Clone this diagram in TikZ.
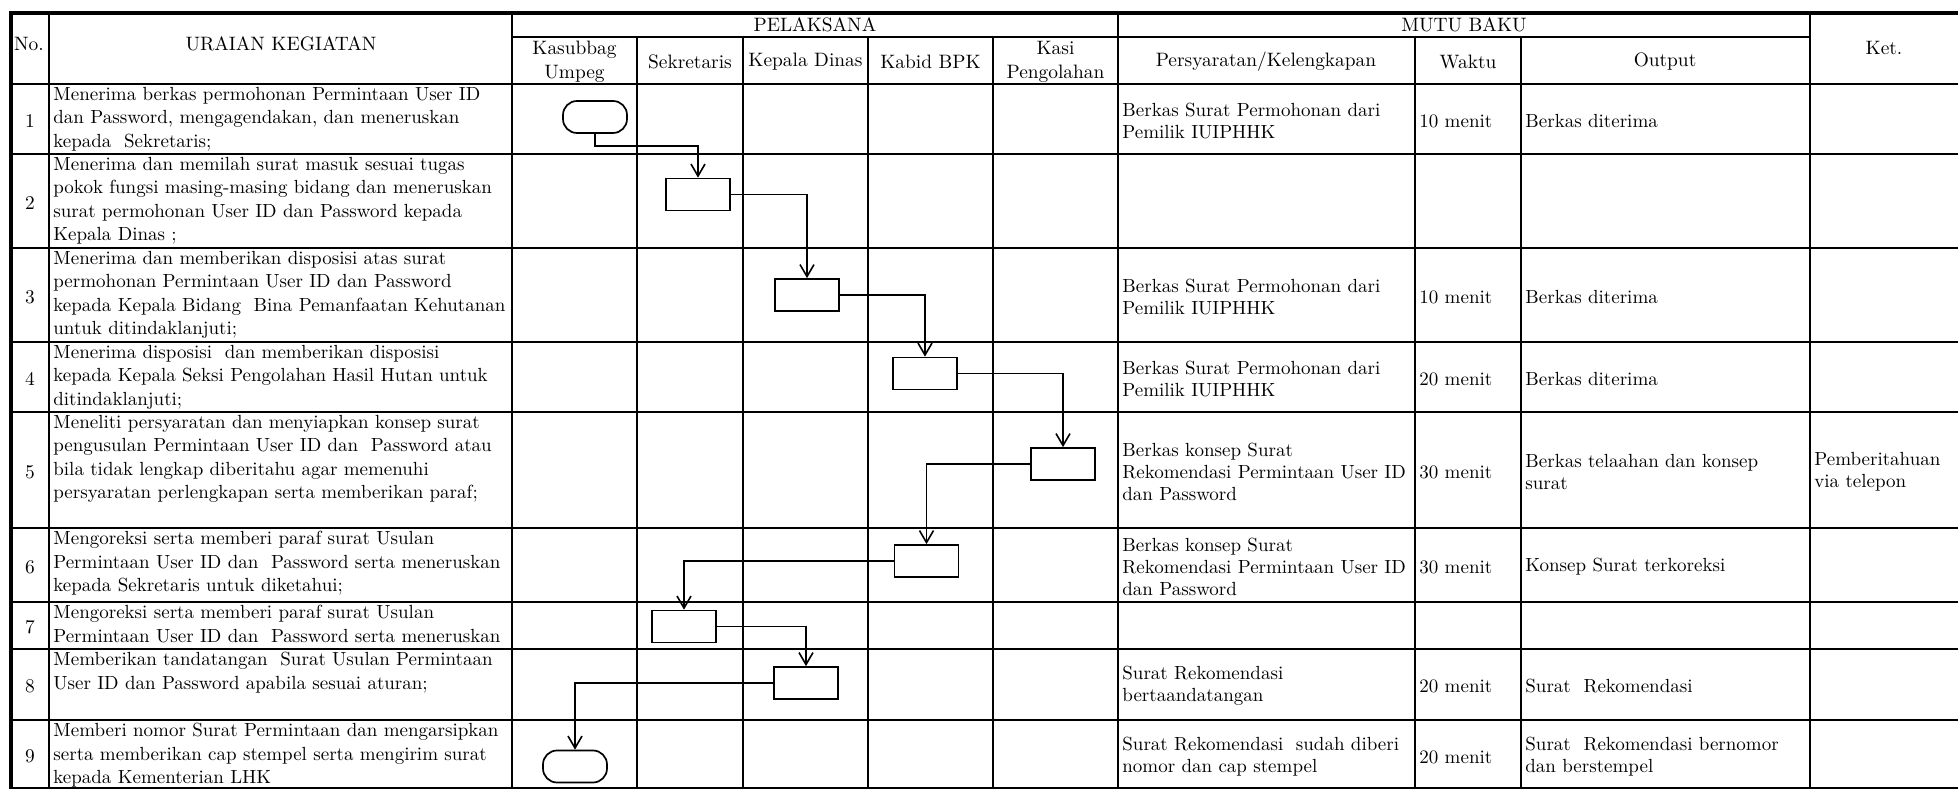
\documentclass[tikz,border=0pt]{standalone}
\usetikzlibrary{arrows.meta}
\begin{document}
\begin{tikzpicture}[x=0.5pt,y=-0.5pt,
  grid/.style={line width=1pt},
  rim/.style={line width=2pt},
  proc/.style={draw, line width=0.85pt, minimum width=32pt, minimum height=16pt, inner sep=0pt},
  term/.style={proc, rounded corners=7pt},
  flow/.style={line width=0.75pt, -{Straight Barb[length=6pt,width=7pt,line width=0.8pt]}},
  hd/.style={inner sep=0pt, align=center, font=\fontsize{9.7}{12}\selectfont},
  no/.style={inner sep=0pt, font=\fontsize{9.7}{12}\selectfont},
  urai/.style={inner sep=0pt, align=left, anchor=north west, font=\fontsize{9.5}{11.65}\selectfont},
  mb/.style={inner sep=0pt, align=left, anchor=west, font=\fontsize{9.5}{11}\selectfont}]
\useasboundingbox (0,0) rectangle (1958,790);

% table lines
\foreach \y in {84,154,248,342,412,528,602,649,720,788} \draw[grid] (11,\y) -- (1958,\y);
\draw[grid] (512,37) -- (1810,37);
\foreach \x in {49,512,1118,1810} \draw[grid] (\x,13) -- (\x,788);
\foreach \x in {637,743,868,993,1415,1521} \draw[grid] (\x,37) -- (\x,788);
\draw[rim] (1958,13) -- (11,13) -- (11,789);

% header
\node[hd] (hno) at (29,44) {No.};
\node[hd] (hurai) at (281,44) {URAIAN KEGIATAN};
\node[hd] (hpel) at (815,25) {PELAKSANA};
\node[hd] (hmutu) at (1464,25) {MUTU BAKU};
\node[hd] (hket) at (1884,48) {Ket.};
\node[hd] (hkasub) at (574.5,62) {Kasubbag\\Umpeg};
\node[hd] (hsekr) at (690,62) {Sekretaris};
\node[hd] (hkadis) at (805.5,62) {Kepala Dinas};
\node[hd] (hkabid) at (930.5,62) {Kabid BPK};
\node[hd] (hkasi) at (1055.5,62) {Kasi\\Pengolahan};
\node[hd] (hsyarat) at (1266,62) {Persyaratan/Kelengkapan};
\node[hd] (hwaktu) at (1468,62) {Waktu};
\node[hd] (houtput) at (1665,62) {Output};

% nomor
\node[no] (n1) at (30,121) {1};
\node[no] (n2) at (30,203) {2};
\node[no] (n3) at (30,297) {3};
\node[no] (n4) at (30,379) {4};
\node[no] (n5) at (30,472) {5};
\node[no] (n6) at (30,567) {6};
\node[no] (n7) at (30,627) {7};
\node[no] (n8) at (30,686) {8};
\node[no] (n9) at (30,756) {9};

% uraian kegiatan
\node[urai] (u1) at (53,87) {Menerima berkas permohonan Permintaan User ID\\dan Password, mengagendakan, dan meneruskan\\kepada\ \ Sekretaris;};
\node[urai] (u2) at (53,157) {Menerima dan memilah surat masuk sesuai tugas\\pokok fungsi masing-masing bidang dan meneruskan\\surat permohonan User ID dan Password kepada\\Kepala Dinas ;};
\node[urai] (u3) at (53,251) {Menerima dan memberikan disposisi atas surat\\permohonan Permintaan User ID dan Password\\kepada Kepala Bidang\ \ Bina Pemanfaatan Kehutanan\\untuk ditindaklanjuti;};
\node[urai] (u4) at (53,345) {Menerima disposisi\ \ dan memberikan disposisi\\kepada Kepala Seksi Pengolahan Hasil Hutan untuk\\ditindaklanjuti;};
\node[urai] (u5) at (53,415) {Meneliti persyaratan dan menyiapkan konsep surat\\pengusulan Permintaan User ID dan\ \ Password atau\\bila tidak lengkap diberitahu agar memenuhi\\persyaratan perlengkapan serta memberikan paraf;};
\node[urai] (u6) at (53,531) {Mengoreksi serta memberi paraf surat Usulan\\Permintaan User ID dan\ \ Password serta meneruskan\\kepada Sekretaris untuk diketahui;};
\node[urai] (u7) at (53,605) {Mengoreksi serta memberi paraf surat Usulan\\Permintaan User ID dan\ \ Password serta meneruskan};
\node[urai] (u8) at (53,652) {Memberikan tandatangan\ \ Surat Usulan Permintaan\\User ID dan Password apabila sesuai aturan;};
\node[urai] (u9) at (53,723) {Memberi nomor Surat Permintaan dan mengarsipkan\\serta memberikan cap stempel serta mengirim surat\\kepada Kementerian LHK};

% mutu baku
\node[mb] (s1) at (1122,121) {Berkas Surat Permohonan dari\\Pemilik IUIPHHK};
\node[mb] (w1) at (1419,121) {10 menit};
\node[mb] (o1) at (1525,121) {Berkas diterima};
\node[mb] (s3) at (1122,297) {Berkas Surat Permohonan dari\\Pemilik IUIPHHK};
\node[mb] (w3) at (1419,297) {10 menit};
\node[mb] (o3) at (1525,297) {Berkas diterima};
\node[mb] (s4) at (1122,379) {Berkas Surat Permohonan dari\\Pemilik IUIPHHK};
\node[mb] (w4) at (1419,379) {20 menit};
\node[mb] (o4) at (1525,379) {Berkas diterima};
\node[mb] (s5) at (1122,472) {Berkas konsep Surat\\Rekomendasi Permintaan User ID\\dan Password};
\node[mb] (w5) at (1419,472) {30 menit};
\node[mb] (o5) at (1525,472) {Berkas telaahan dan konsep\\surat};
\node[mb] (k5) at (1814,472) {Pemberitahuan\\via telepon};
\node[mb] (s6) at (1122,567) {Berkas konsep Surat\\Rekomendasi Permintaan User ID\\dan Password};
\node[mb] (w6) at (1419,567) {30 menit};
\node[mb] (o6) at (1525,567) {Konsep Surat terkoreksi};
\node[mb] (s8) at (1122,686) {Surat Rekomendasi\\bertaandatangan};
\node[mb] (w8) at (1419,686) {20 menit};
\node[mb] (o8) at (1525,686) {Surat\ \ Rekomendasi};
\node[mb] (s9) at (1122,757) {Surat Rekomendasi\ \ sudah diberi\\nomor dan cap stempel};
\node[mb] (w9) at (1419,757) {20 menit};
\node[mb] (o9) at (1525,757) {Surat\ \ Rekomendasi bernomor\\dan berstempel};

% alur
\node[term] (p1) at (595,117){};
\node[proc] (p2) at (698,194.5){};
\node[proc] (p3) at (807,295){};
\node[proc] (p4) at (925,373.5){};
\node[proc] (p5) at (1063,464){};
\node[proc] (p6) at (926.5,561){};
\node[proc] (p7) at (684,626.5){};
\node[proc] (p8) at (806,683){};
\node[term] (p9) at (575,766.5){};
\draw[flow](p1.south) -- ++(0,12) -| (p2.north);
\draw[flow](p2.east) -| (p3.north);
\draw[flow](p3.east) -| (p4.north);
\draw[flow](p4.east) -| (p5.north);
\draw[flow](p5.west) -| (p6.north);
\draw[flow](p6.west) -| (p7.north);
\draw[flow](p7.east) -| (p8.north);
\draw[flow](p8.west) -| (p9.north);
\end{tikzpicture}
\end{document}
